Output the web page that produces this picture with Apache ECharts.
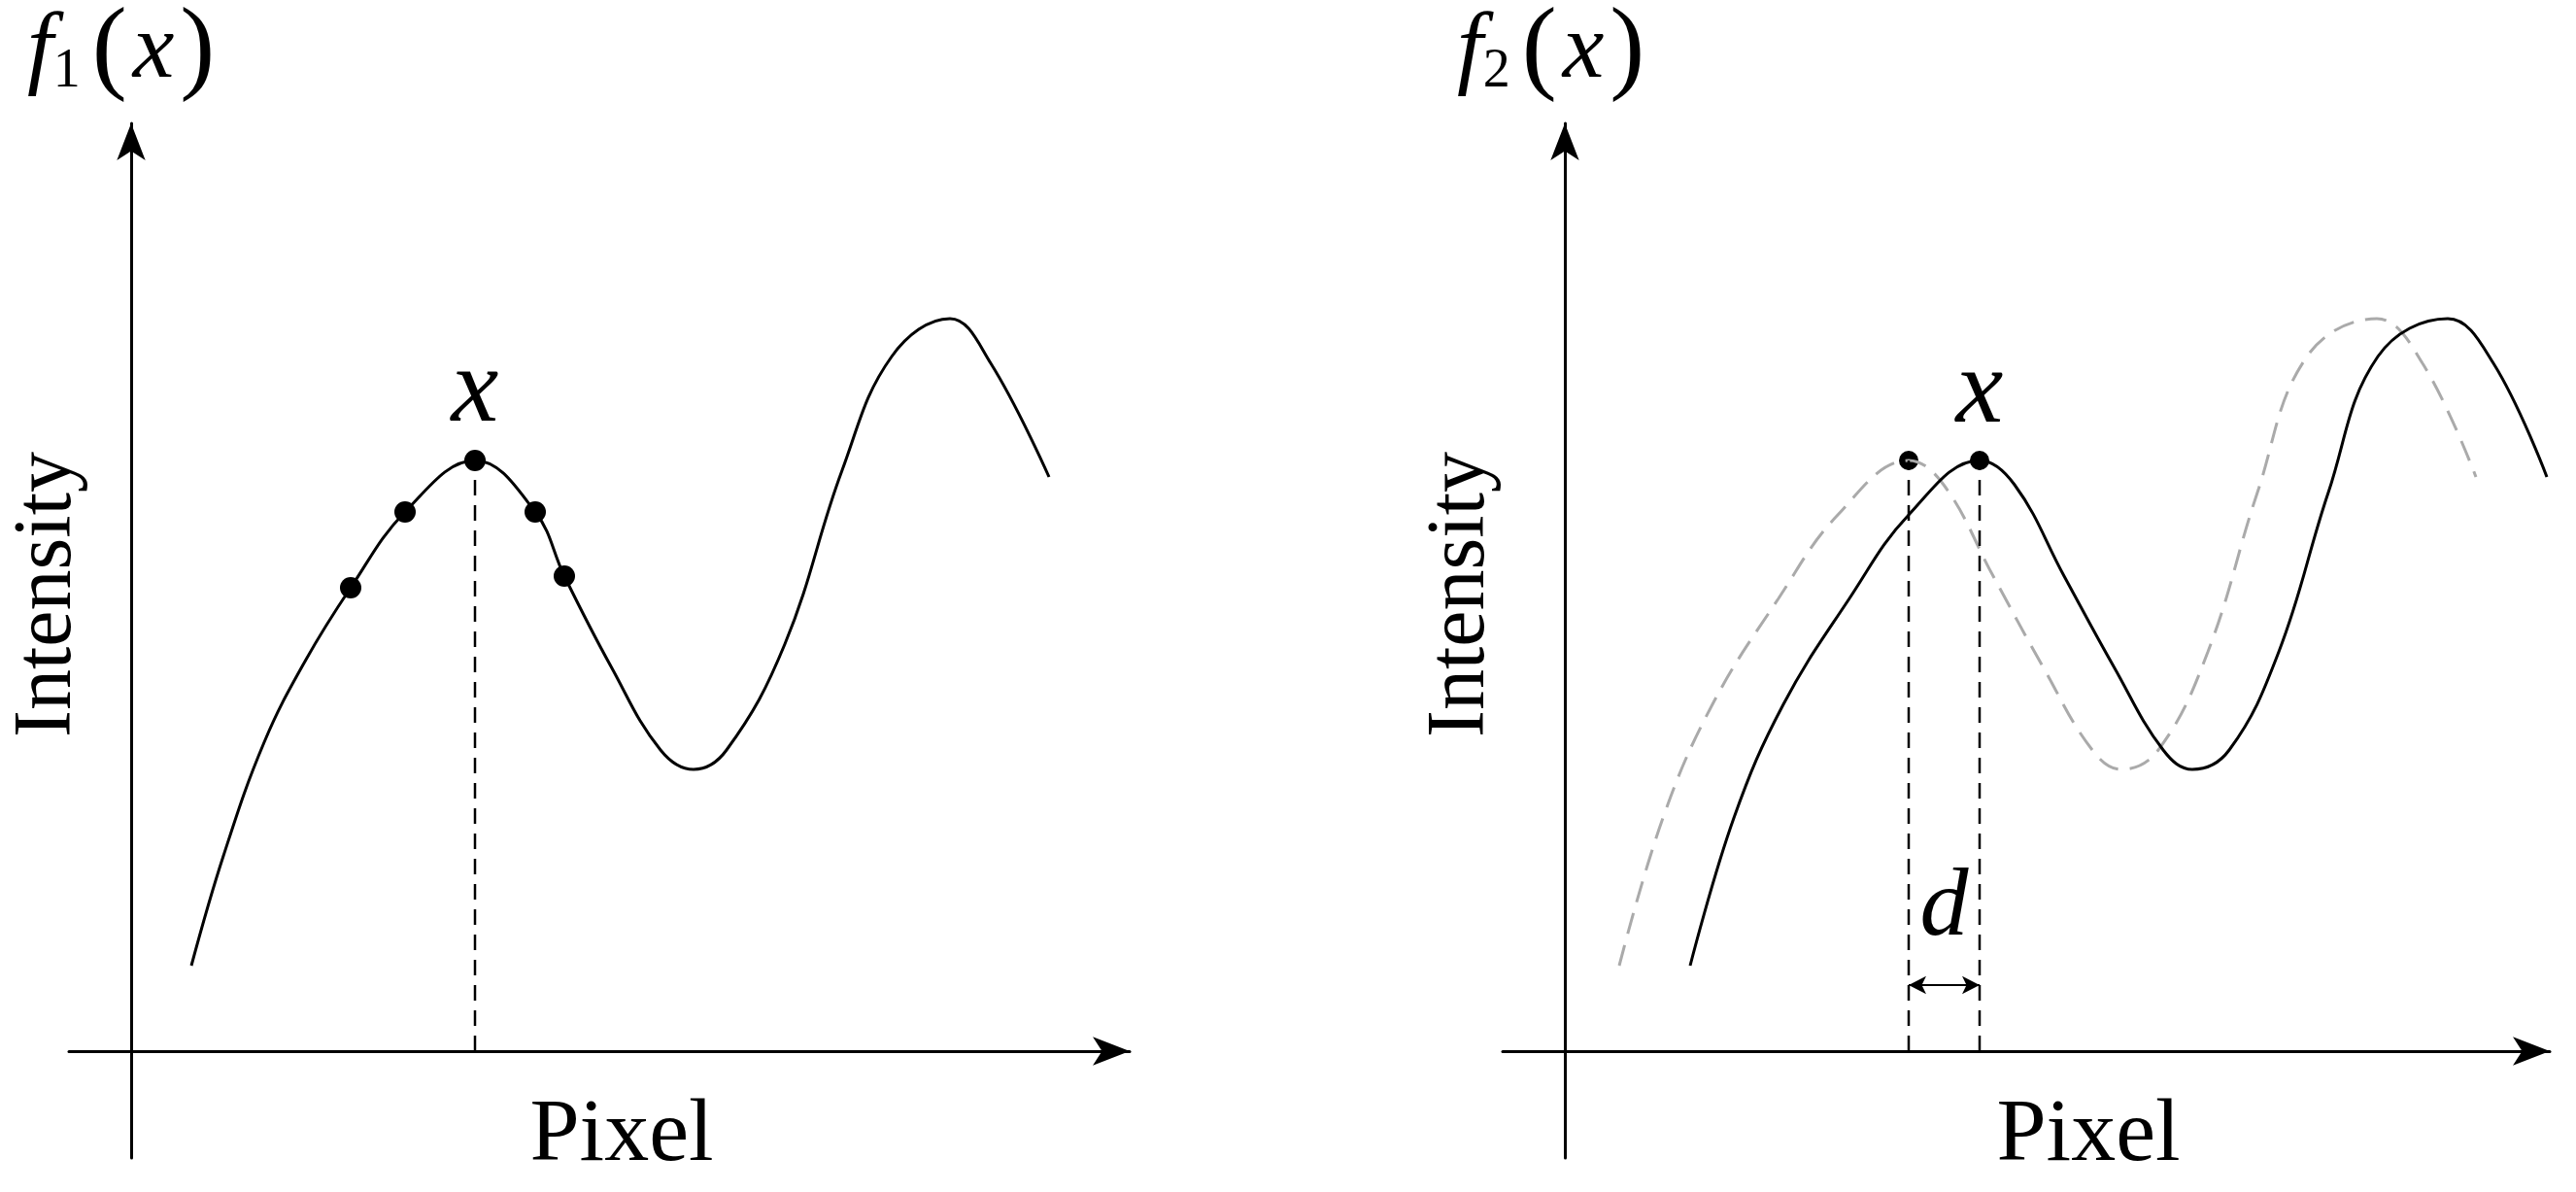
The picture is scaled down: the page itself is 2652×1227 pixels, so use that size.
<!DOCTYPE html>
<html>
<head>
<meta charset="utf-8">
<script src="https://cdn.jsdelivr.net/npm/echarts@6/dist/echarts.min.js"></script>
<style>html,body{margin:0;background:#fff}#chart{width:2652px;height:1227px}</style>
</head>
<body>
<div id="chart"></div>
<script>
// left panel, f1(x): pixel offset from the y axis vs intensity
const f1X = [62, 95, 137, 180, 226, 282, 354, 416, 446, 494, 545, 579, 613, 673, 732, 783, 843, 885, 945]
const f1Y = [88, 201, 318, 403, 477, 555, 608, 555, 489, 396, 310, 290, 310, 419, 598, 715, 754, 708, 591]
const f1DotsX = [226, 282, 354, 416, 446]
const f1DotsY = [477, 555, 608, 555, 489]
const peak1 = 354

// right panel, f2(x): solid curve and the shifted dashed one
const f2X = [129, 174, 225, 293, 354, 427, 463, 514, 565, 616, 646, 684, 735, 786, 837, 909, 956, 1011]
const f2Y = [88, 240, 357, 466, 552, 608, 583, 489, 396, 310, 290, 310, 411, 575, 715, 754, 708, 591]
const g2X = [56, 101, 152, 220, 281, 354, 390, 441, 492, 543, 573, 611, 662, 713, 764, 836, 883, 938]
const g2Y = [88, 240, 357, 466, 552, 608, 583, 489, 396, 310, 290, 310, 411, 575, 715, 754, 708, 591]
const peaks2 = [354, 427]
const peakY = 608

const zip = (xs, ys) => xs.map((x, i) => [x, ys[i]])
const serif = '"Liberation Serif", "Times New Roman", "DejaVu Serif", serif'

const axisX = (gridIndex, max) => ({
  type: 'value', gridIndex, min: -64, max,
  axisLine: { onZero: true, symbol: ['none', 'arrow'], symbolSize: [22, 38], lineStyle: { color: '#000', width: 3 } },
  axisTick: { show: false }, axisLabel: { show: false }, splitLine: { show: false }
})
const axisY = gridIndex => ({
  type: 'value', gridIndex, min: -110, max: 955,
  axisLine: { onZero: true, symbol: ['none', 'arrow'], symbolSize: [22, 38], lineStyle: { color: '#000', width: 3 } },
  axisTick: { show: false }, axisLabel: { show: false }, splitLine: { show: false }
})

const curve = (idx, xs, ys, style) => ({
  type: 'line', xAxisIndex: idx, yAxisIndex: idx, smooth: 0.4, symbol: 'none',
  data: zip(xs, ys), lineStyle: style
})

const vline = (idx, x) => ({
  type: 'line', xAxisIndex: idx, yAxisIndex: idx, symbol: 'none',
  data: [[x, 0], [x, peakY]],
  lineStyle: { color: '#000', width: 2.5, type: [16, 10] }
})

const rich = {
  i: { fontFamily: serif, fontStyle: 'italic', fontSize: 96, color: '#000' },
  s: { fontFamily: serif, fontSize: 56, color: '#000', padding: [40, 6, 0, 0] },
  p: { fontFamily: serif, fontSize: 108, color: '#000', padding: [0, 6, 0, 6] }
}
const plain = size => ({ fontFamily: serif, fontSize: size, fill: '#000', align: 'center', verticalAlign: 'middle' })

const chart = echarts.init(document.getElementById('chart'))
chart.setOption({
  backgroundColor: '#fff',
  animation: false,
  grid: [
    { left: 71, right: 1489, top: 127, bottom: 35 },
    { left: 1547, right: 27, top: 127, bottom: 35 }
  ],
  xAxis: [axisX(0, 1028), axisX(1, 1014)],
  yAxis: [axisY(0), axisY(1)],
  graphic: [
    { type: 'text', left: 28, top: 0, style: { text: '{i|f}{s|1}{p|(}{i|x}{p|)}', rich } },
    { type: 'text', left: 1500, top: 0, style: { text: '{i|f}{s|2}{p|(}{i|x}{p|)}', rich } },
    { type: 'text', x: 50, y: 612, rotation: Math.PI / 2, style: Object.assign({ text: 'Intensity' }, plain(84)) },
    { type: 'text', x: 1505, y: 612, rotation: Math.PI / 2, style: Object.assign({ text: 'Intensity' }, plain(84)) },
    { type: 'text', x: 640, y: 1170, style: Object.assign({ text: 'Pixel' }, plain(92)) },
    { type: 'text', x: 2150, y: 1170, style: Object.assign({ text: 'Pixel' }, plain(92)) }
  ],
  series: [
    curve(0, f1X, f1Y, { color: '#000', width: 3 }),
    vline(0, peak1),
    {
      type: 'scatter', xAxisIndex: 0, yAxisIndex: 0, symbolSize: 22,
      itemStyle: { color: '#000', opacity: 1 }, data: zip(f1DotsX, f1DotsY),
      label: { show: true, formatter: p => p.dataIndex === 2 ? 'x' : '', position: 'top', distance: 4, fontFamily: serif, fontStyle: 'italic', fontSize: 110, color: '#000' }
    },
    curve(1, g2X, g2Y, { color: '#aaa', width: 3, type: [22, 12] }),
    curve(1, f2X, f2Y, { color: '#000', width: 3 }),
    vline(1, peaks2[0]),
    vline(1, peaks2[1]),
    {
      type: 'scatter', xAxisIndex: 1, yAxisIndex: 1, symbolSize: 20,
      itemStyle: { color: '#000', opacity: 1 }, data: peaks2.map(x => [x, peakY]),
      label: { show: true, formatter: p => p.dataIndex === 1 ? 'x' : '', position: 'top', distance: 4, fontFamily: serif, fontStyle: 'italic', fontSize: 110, color: '#000' },
      markLine: {
        silent: true, symbol: ['arrow', 'arrow'], symbolSize: [14, 18],
        lineStyle: { color: '#000', width: 2, type: 'solid' },
        label: { show: true, position: 'middle', formatter: 'd', distance: 28, fontFamily: serif, fontStyle: 'italic', fontSize: 100, color: '#000' },
        data: [[{ coord: [peaks2[0], 68] }, { coord: [peaks2[1], 68] }]]
      }
    }
  ]
})
</script>
</body>
</html>
